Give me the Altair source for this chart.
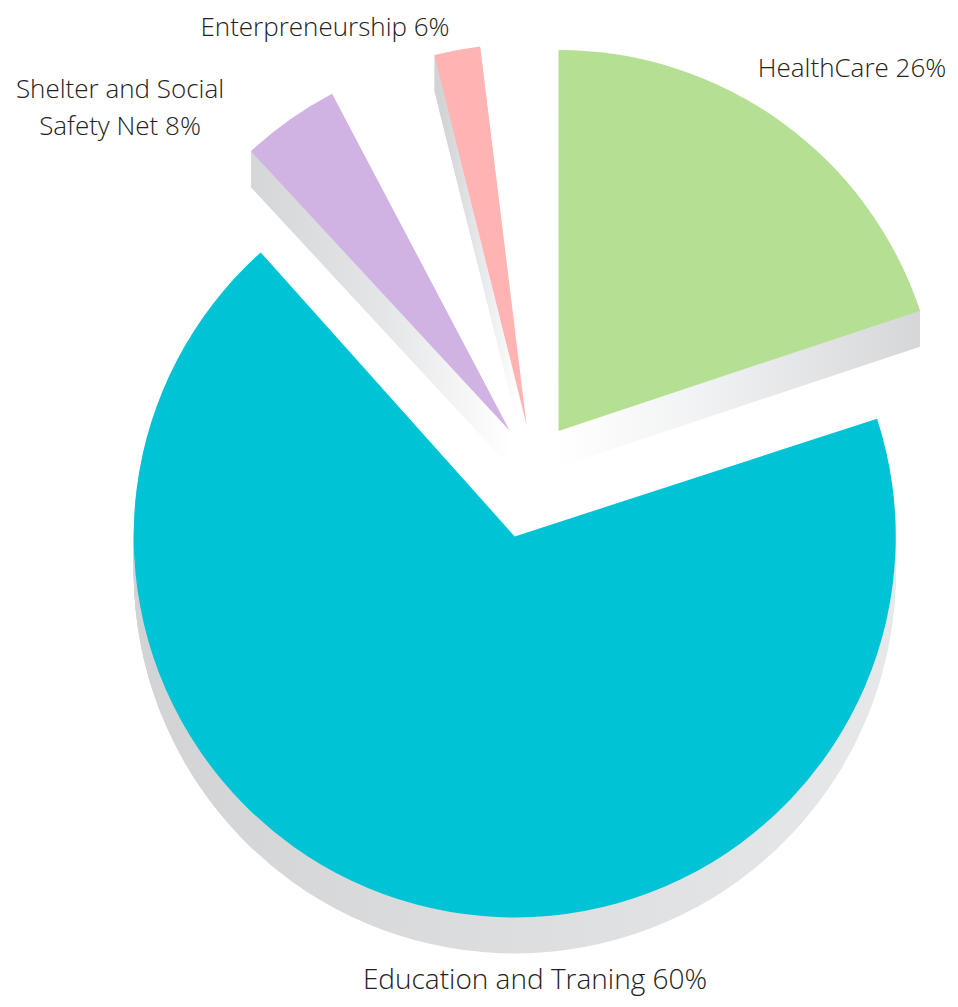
import math
import pandas as pd
import altair as alt

# ---- data ----
categories = ["HealthCare", "Education and Traning", "Shelter and Social Safety Net", "Enterpreneurship"]
label_pct = [26, 60, 8, 6]
start_deg = [0.0, 72.0, 317.2, 346.0]
end_deg = [71.6, 318.2, 332.2, 353.0]
label_text = ["HealthCare 26%", "Education and Traning 60%", "Shelter and Social\nSafety Net 8%", "Enterpreneurship 6%"]

# ---- styling / layout ----
colors = ["#b5e094", "#00c3d6", "#d1b3e3", "#ffb3b3"]
explode = [42, 74, 42, 41]          # px offset of each slice along its bisector
label_offset = [(318, 396), (1, -516), (-414, 375), (-209, 437)]  # label anchor relative to pie centre
label_size = [26, 28, 26, 26]
RADIUS = 381
DEPTH = 36
W, H = 940, 990
CX, CY = 526, 457   # pie centre inside the plot area

rows, shadow_rows, label_rows = [], [], []
for i, cat in enumerate(categories):
    mid = math.radians((start_deg[i] + end_deg[i]) / 2)
    dx = explode[i] * math.sin(mid)
    dy = explode[i] * math.cos(mid)
    t0, t1 = math.radians(start_deg[i]), math.radians(end_deg[i])
    rows.append(dict(cat=cat, t0=t0, t1=t1, cx=dx, cy=dy))
    for k in range(DEPTH, 0, -1):
        shadow_rows.append(dict(cat=cat, t0=t0, t1=t1, cx=dx, cy=dy - k))
    label_rows.append(dict(cat=cat, label=label_text[i], pct=label_pct[i],
                           lx=label_offset[i][0], ly=label_offset[i][1], fs=label_size[i]))

df = pd.DataFrame(rows)
sdf = pd.DataFrame(shadow_rows)
ldf = pd.DataFrame(label_rows)

xs = alt.Scale(domain=[-CX, W - CX], nice=False, zero=False)
ys = alt.Scale(domain=[-(H - CY), CY], nice=False, zero=False)

def enc(ch):
    return ch.encode(
        x=alt.X("cx:Q", scale=xs, axis=None),
        y=alt.Y("cy:Q", scale=ys, axis=None),
        theta=alt.Theta("t0:Q", scale=None, stack=None),
        theta2="t1:Q",
    )

def grad(x1, y1, x2, y2, stops):
    return alt.Gradient(
        gradient="linear",
        stops=[alt.GradientStop(offset=o, color=c) for o, c in stops],
        x1=x1, y1=y1, x2=x2, y2=y2,
    )

shadow_grads = {
    "HealthCare": grad(0, 1, 1, 0.55, [(0, "#ffffff"), (0.35, "#f2f3f4"), (1, "#d3d4d6")]),
    "Education and Traning": grad(0, 0.5, 1, 0.5, [(0, "#d2d3d5"), (1, "#e7e8ea")]),
    "Shelter and Social Safety Net": grad(0, 0, 1, 1, [(0, "#d2d3d5"), (0.55, "#e4e5e7"), (1, "#ffffff")]),
    "Enterpreneurship": grad(0.3, 0, 0.7, 1, [(0, "#d2d3d5"), (0.6, "#ebeced"), (1, "#ffffff")]),
}

layers = []
for cat in categories:
    layers.append(
        enc(alt.Chart(sdf).transform_filter(alt.datum.cat == cat)
            .mark_arc(radius=RADIUS, fill=shadow_grads[cat], strokeWidth=0))
    )

tops = enc(alt.Chart(df).mark_arc(radius=RADIUS, strokeWidth=0)).encode(
    color=alt.Color("cat:N", scale=alt.Scale(domain=categories, range=colors), legend=None)
)
layers.append(tops)

labels = alt.Chart(ldf).mark_text(
    font="Open Sans", fontWeight=300, color="#222222",
    align="center", baseline="middle", lineBreak="\n", lineHeight=37,
).encode(
    x=alt.X("lx:Q", scale=xs, axis=None),
    y=alt.Y("ly:Q", scale=ys, axis=None),
    text="label:N",
    size=alt.Size("fs:Q", scale=None, legend=None),
)
layers.append(labels)

chart = alt.layer(*layers).properties(
    width=W, height=H, padding=0, background="white"
).configure_view(stroke=None)

chart.save("out.html", embed_options={"renderer": "svg", "actions": False})
